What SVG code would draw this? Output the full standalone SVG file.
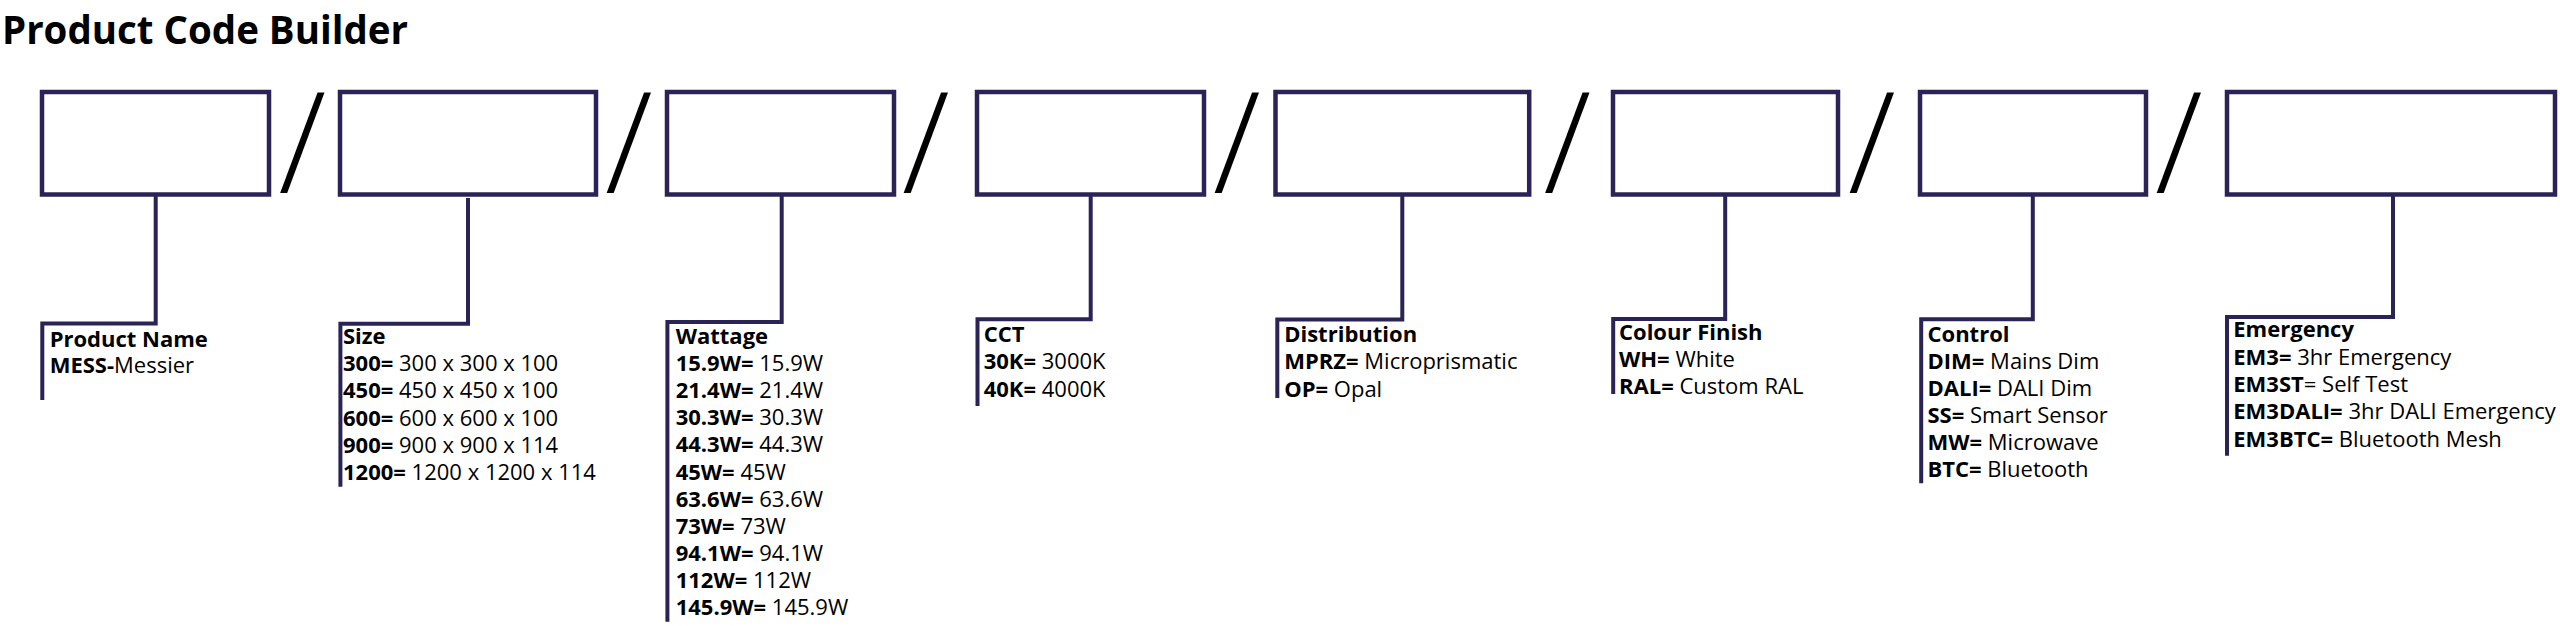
<svg xmlns="http://www.w3.org/2000/svg" width="2560" height="626" viewBox="0 0 2560 626">
<style>
text{font-family:"Open Sans","Noto Sans","Liberation Sans",sans-serif;fill:#000}
.title{font-size:38.5px;font-weight:700}
.slash{font-size:140px;font-weight:300}
.body{font-size:22px}
.b{font-weight:700}
.box{fill:#fff;stroke:#2a2456;stroke-width:4.5}
.con{fill:none;stroke:#2a2456;stroke-width:4;stroke-linejoin:miter;stroke-linecap:butt}
</style>
<rect width="2560" height="626" fill="#fff"/>
<text id="title" class="title" x="2" y="43.5" textLength="406" lengthAdjust="spacingAndGlyphs">Product Code Builder</text>

<g id="separators">
<text class="slash" x="278.5" y="192.5">/</text>
<text class="slash" x="605" y="192.5">/</text>
<text class="slash" x="902" y="192.5">/</text>
<text class="slash" x="1213" y="192.5">/</text>
<text class="slash" x="1543.5" y="192.5">/</text>
<text class="slash" x="1848" y="192.5">/</text>
<text class="slash" x="2155" y="192.5">/</text>
</g>

<g id="connectors">
<path class="con" d="M155.7,196 V323.5 H42.3 V400"/>
<path class="con" d="M468,198 V323.7 H340.4 V486.7"/>
<path class="con" d="M781.7,196 V322 H667.4 V621.7"/>
<path class="con" d="M1090.7,196 V319.3 H977.5 V406"/>
<path class="con" d="M1402.3,196 V319.5 H1277.3 V398"/>
<path class="con" d="M1725.2,196 V319 H1613.2 V394"/>
<path class="con" d="M2032.8,196 V319.3 H1921.2 V483.3"/>
<path class="con" d="M2393,192 V317 H2227 V455.7"/>
</g>

<g id="node-product">
<rect class="box" x="42" y="92" width="227" height="102.5"/>
<text class="body" x="49.7" y="346.7"><tspan class="b">Product Name</tspan><tspan x="49.7" dy="26.6" class="b">MESS-</tspan><tspan>Messier</tspan></text>
</g>

<g id="node-size">
<rect class="box" x="340" y="92" width="256" height="102.5"/>
<text class="body" x="343" y="344"><tspan class="b">Size</tspan><tspan x="343" dy="27.2" class="b">300=</tspan><tspan> 300 x 300 x 100</tspan><tspan x="343" dy="27.2" class="b">450=</tspan><tspan> 450 x 450 x 100</tspan><tspan x="343" dy="27.2" class="b">600=</tspan><tspan> 600 x 600 x 100</tspan><tspan x="343" dy="27.2" class="b">900=</tspan><tspan> 900 x 900 x 114</tspan><tspan x="343" dy="27.2" class="b">1200=</tspan><tspan> 1200 x 1200 x 114</tspan></text>
</g>

<g id="node-wattage">
<rect class="box" x="667" y="92" width="227" height="102.5"/>
<text class="body" x="675.7" y="344"><tspan class="b">Wattage</tspan><tspan x="675.7" dy="27.1" class="b">15.9W=</tspan><tspan> 15.9W</tspan><tspan x="675.7" dy="27.1" class="b">21.4W=</tspan><tspan> 21.4W</tspan><tspan x="675.7" dy="27.1" class="b">30.3W=</tspan><tspan> 30.3W</tspan><tspan x="675.7" dy="27.1" class="b">44.3W=</tspan><tspan> 44.3W</tspan><tspan x="675.7" dy="27.1" class="b">45W=</tspan><tspan> 45W</tspan><tspan x="675.7" dy="27.1" class="b">63.6W=</tspan><tspan> 63.6W</tspan><tspan x="675.7" dy="27.1" class="b">73W=</tspan><tspan> 73W</tspan><tspan x="675.7" dy="27.1" class="b">94.1W=</tspan><tspan> 94.1W</tspan><tspan x="675.7" dy="27.1" class="b">112W=</tspan><tspan> 112W</tspan><tspan x="675.7" dy="27.1" class="b">145.9W=</tspan><tspan> 145.9W</tspan></text>
</g>

<g id="node-cct">
<rect class="box" x="977" y="92" width="227" height="102.5"/>
<text class="body" x="983.7" y="341.7"><tspan class="b">CCT</tspan><tspan x="983.7" dy="27.5" class="b">30K=</tspan><tspan> 3000K</tspan><tspan x="983.7" dy="27.5" class="b">40K=</tspan><tspan> 4000K</tspan></text>
</g>

<g id="node-distribution">
<rect class="box" x="1275.5" y="92" width="253.7" height="102.5"/>
<text class="body" x="1284.2" y="341.7"><tspan class="b">Distribution</tspan><tspan x="1284.2" dy="27.5" class="b">MPRZ=</tspan><tspan> Microprismatic</tspan><tspan x="1284.2" dy="27.5" class="b">OP=</tspan><tspan> Opal</tspan></text>
</g>

<g id="node-colour">
<rect class="box" x="1613" y="92" width="225" height="102.5"/>
<text class="body" x="1619" y="340"><tspan class="b">Colour Finish</tspan><tspan x="1619" dy="27.2" class="b">WH=</tspan><tspan> White</tspan><tspan x="1619" dy="27.2" class="b">RAL=</tspan><tspan> Custom RAL</tspan></text>
</g>

<g id="node-control">
<rect class="box" x="1920" y="92" width="226" height="102.5"/>
<text class="body" x="1927.5" y="341.7"><tspan class="b">Control</tspan><tspan x="1927.5" dy="27.1" class="b">DIM=</tspan><tspan> Mains Dim</tspan><tspan x="1927.5" dy="27.1" class="b">DALI=</tspan><tspan> DALI Dim</tspan><tspan x="1927.5" dy="27.1" class="b">SS=</tspan><tspan> Smart Sensor</tspan><tspan x="1927.5" dy="27.1" class="b">MW=</tspan><tspan> Microwave</tspan><tspan x="1927.5" dy="27.1" class="b">BTC=</tspan><tspan> Bluetooth</tspan></text>
</g>

<g id="node-emergency">
<rect class="box" x="2227" y="92" width="328" height="102.5"/>
<text class="body" x="2233.3" y="337.3"><tspan class="b">Emergency</tspan><tspan x="2233.3" dy="27.3" class="b">EM3=</tspan><tspan> 3hr Emergency</tspan><tspan x="2233.3" dy="27.3" class="b">EM3ST</tspan><tspan>= Self Test</tspan><tspan x="2233.3" dy="27.3" class="b">EM3DALI=</tspan><tspan> 3hr DALI Emergency</tspan><tspan x="2233.3" dy="27.3" class="b">EM3BTC=</tspan><tspan> Bluetooth Mesh</tspan></text>
</g>
</svg>
